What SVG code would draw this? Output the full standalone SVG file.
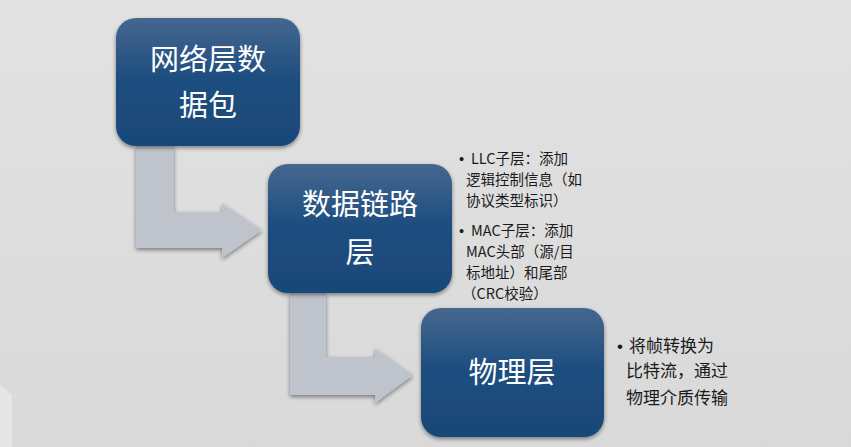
<svg xmlns="http://www.w3.org/2000/svg" width="851" height="447" viewBox="0 0 851 447">
<defs>
<linearGradient id="bg" x1="0" y1="0" x2="0" y2="1">
<stop offset="0" stop-color="#e2e2e2"/>
<stop offset="1" stop-color="#d9d9d9"/>
</linearGradient>
<linearGradient id="box" x1="0" y1="0" x2="0" y2="1">
<stop offset="0" stop-color="#46678f"/>
<stop offset="0.45" stop-color="#1f4f80"/>
<stop offset="1" stop-color="#184878"/>
</linearGradient>
<filter id="sh" x="-10%" y="-10%" width="120%" height="125%">
<feGaussianBlur in="SourceAlpha" stdDeviation="2"/>
<feOffset dx="0" dy="2" result="b"/>
<feComponentTransfer><feFuncA type="linear" slope="0.45"/></feComponentTransfer>
<feMerge><feMergeNode/><feMergeNode in="SourceGraphic"/></feMerge>
</filter>
<style>
.box{fill:url(#box);filter:url(#sh);}
.lbl{font-family:"Noto Sans CJK SC","Noto Sans",sans-serif;font-size:29px;fill:#ffffff;text-anchor:middle;}
.note{font-family:"Noto Sans CJK SC","Noto Sans",sans-serif;font-size:14.5px;fill:#1a1a1a;}
.note2{font-family:"Noto Sans CJK SC","Noto Sans",sans-serif;font-size:17px;fill:#1a1a1a;}
.bul{font-family:"Liberation Sans",Arial,sans-serif;}
.arrow{fill:#bfc4cc;filter:url(#sh);}
</style>
</defs>
<rect width="851" height="447" fill="url(#bg)"/>
<polygon points="0,385 12,395 12,447 0,447" fill="#e8e8e8" opacity="0.8"/>
<g id="connectors">
<path class="arrow" d="M136,146 L174,146 L174,212 L222,212 L222,203 L262,230 L222,258 L222,248 L136,248 Z"/>
<path class="arrow" d="M290,293 L326,293 L326,357 L375,357 L375,348 L413,375 L375,403 L375,395 L290,395 Z"/>
</g>
<g id="node1">
<rect class="box" x="116" y="18" width="184" height="128" rx="20"/>
<text class="lbl" x="208" y="70">网络层数</text>
<text class="lbl" x="208" y="116">据包</text>
</g>
<g id="node2">
<rect class="box" x="268" y="164" width="184" height="129" rx="20"/>
<text class="lbl" x="360" y="215">数据链路</text>
<text class="lbl" x="360" y="263">层</text>
</g>
<g id="node3">
<rect class="box" x="421" y="308" width="183" height="129" rx="20"/>
<text class="lbl" x="512" y="383">物理层</text>
</g>
<g id="notes-datalink">
<text class="note" x="459" y="164"><tspan class="bul">•</tspan><tspan x="471">LLC子层：添加</tspan></text>
<text class="note" x="466" y="185">逻辑控制信息（如</text>
<text class="note" x="466" y="206">协议类型标识）</text>
<text class="note" x="459" y="236"><tspan class="bul">•</tspan><tspan x="471">MAC子层：添加</tspan></text>
<text class="note" x="466" y="257">MAC头部（源/目</text>
<text class="note" x="466" y="278">标地址）和尾部</text>
<text class="note" x="462" y="299">（CRC校验）</text>
</g>
<g id="notes-physical">
<text class="note2" x="617" y="352"><tspan class="bul">•</tspan><tspan x="629">将帧转换为</tspan></text>
<text class="note2" x="626" y="377">比特流，通过</text>
<text class="note2" x="626" y="404">物理介质传输</text>
</g>
</svg>
